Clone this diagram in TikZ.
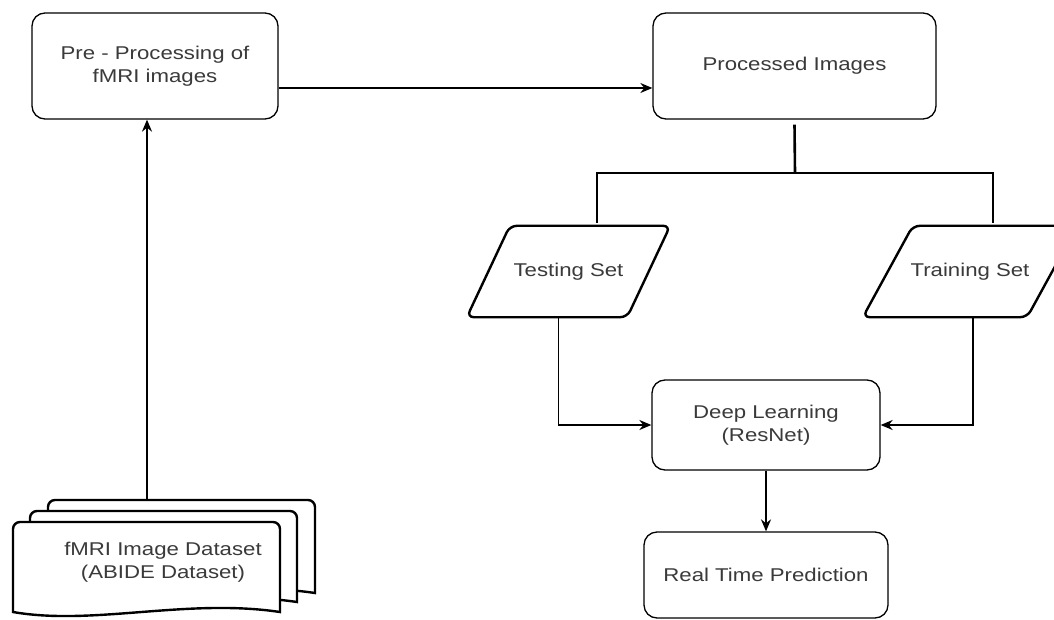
\documentclass[tikz,border=0pt]{standalone}
\usepackage{fontspec}
\setmainfont{Liberation Sans}[FakeStretch=1.2]
\usepackage{tikz}
\usetikzlibrary{positioning, calc, arrows.meta}
\definecolor{TextGray}{RGB}{58,58,58}
\tikzset{
    stagebox/.style={
        draw, rounded corners=13pt, line width=1.3pt, fill=white,
        align=center, text=TextGray, inner sep=0pt
    },
    setnode/.style={
        text=TextGray, inner sep=0pt, minimum height=91pt
    },
    setborder/.style={
        line width=2.4pt, rounded corners=7pt, fill=white
    },
    docpart/.style={
        draw, line width=2.4pt, fill=white, rounded corners=7pt
    },
    arr/.style={
        -{Stealth[length=12pt, width=10pt]}, line width=1.5pt
    },
    splitline/.style={
        line width=2.6pt
    }
}
\newcommand{\docsheet}[4]{% x0, top, x1, bottom
    \draw[docpart] (#1,#4) -- (#1,#2) -- (#3,#2) [sharp corners] -- (#3,#4)
        .. controls ($(#3,#4)!0.35!(#1,#4)+(0,-14)$) and ($(#3,#4)!0.7!(#1,#4)+(0,14)$) .. (#1,#4) -- cycle;
}
\newcommand{\slantframe}[2]{% node, half offset
    \draw[setborder] ([xshift=-#2]#1.south west) -- ([xshift=#2]#1.north west)
        -- ([xshift=#2]#1.north east) -- ([xshift=-#2]#1.south east) -- cycle;
}

\begin{document}
\begin{tikzpicture}[x=1pt, y=-1pt, font=\fontsize{18.5}{23}\selectfont]
    \useasboundingbox (0,0) rectangle (1054,620);

    % stacked documents of the data set
    \docsheet{48}{500}{315}{593}
    \docsheet{30}{511}{297}{602}
    \docsheet{13}{522}{280}{612}
    \node[text=TextGray, align=center] (data) at (163,562) {fMRI Image Dataset\\(ABIDE Dataset)};
    \coordinate (datatop) at (147,500);

    % boxes
    \node[stagebox, minimum width=246pt, minimum height=106pt] (pre) at (155,66) {Pre - Processing of\\fMRI images};
    \node[stagebox, minimum width=283pt, minimum height=106pt] (proc) at (794.5,66) {Processed Images};
    \node[setnode, minimum width=160pt] (test) at (568.5,271.5) {};
    \slantframe{test}{21.5pt}
    \node[text=TextGray] at (test) {Testing Set};
    \node[setnode, minimum width=164pt] (train) at (970,271.5) {};
    \slantframe{train}{25pt}
    \node[text=TextGray] at (train) {Training Set};
    \node[stagebox, minimum width=228pt, minimum height=90pt] (deep) at (766,425) {Deep Learning\\(ResNet)};
    \node[stagebox, minimum width=244pt, minimum height=86pt] (real) at (766,575) {Real Time Prediction};

    % connectors
    \draw[arr] (datatop) -- (datatop |- pre.south);
    \draw[arr] ([yshift=-22pt]pre.east) -- ([yshift=-22pt]proc.west);
    \coordinate (split) at (795,173);
    \draw[splitline] ([yshift=-5pt]proc.south) -- (split);
    \draw[splitline] (split) -| ([xshift=28.5pt,yshift=3pt]test.north);
    \draw[splitline] (split) -| ([xshift=23pt,yshift=3pt]train.north);
    \draw[arr] ([xshift=-10pt]test.south) |- (deep.west);
    \draw[arr] ([xshift=3pt]train.south) |- (deep.east);
    \draw[arr] (deep.south) -- (real.north);
\end{tikzpicture}
\end{document}
